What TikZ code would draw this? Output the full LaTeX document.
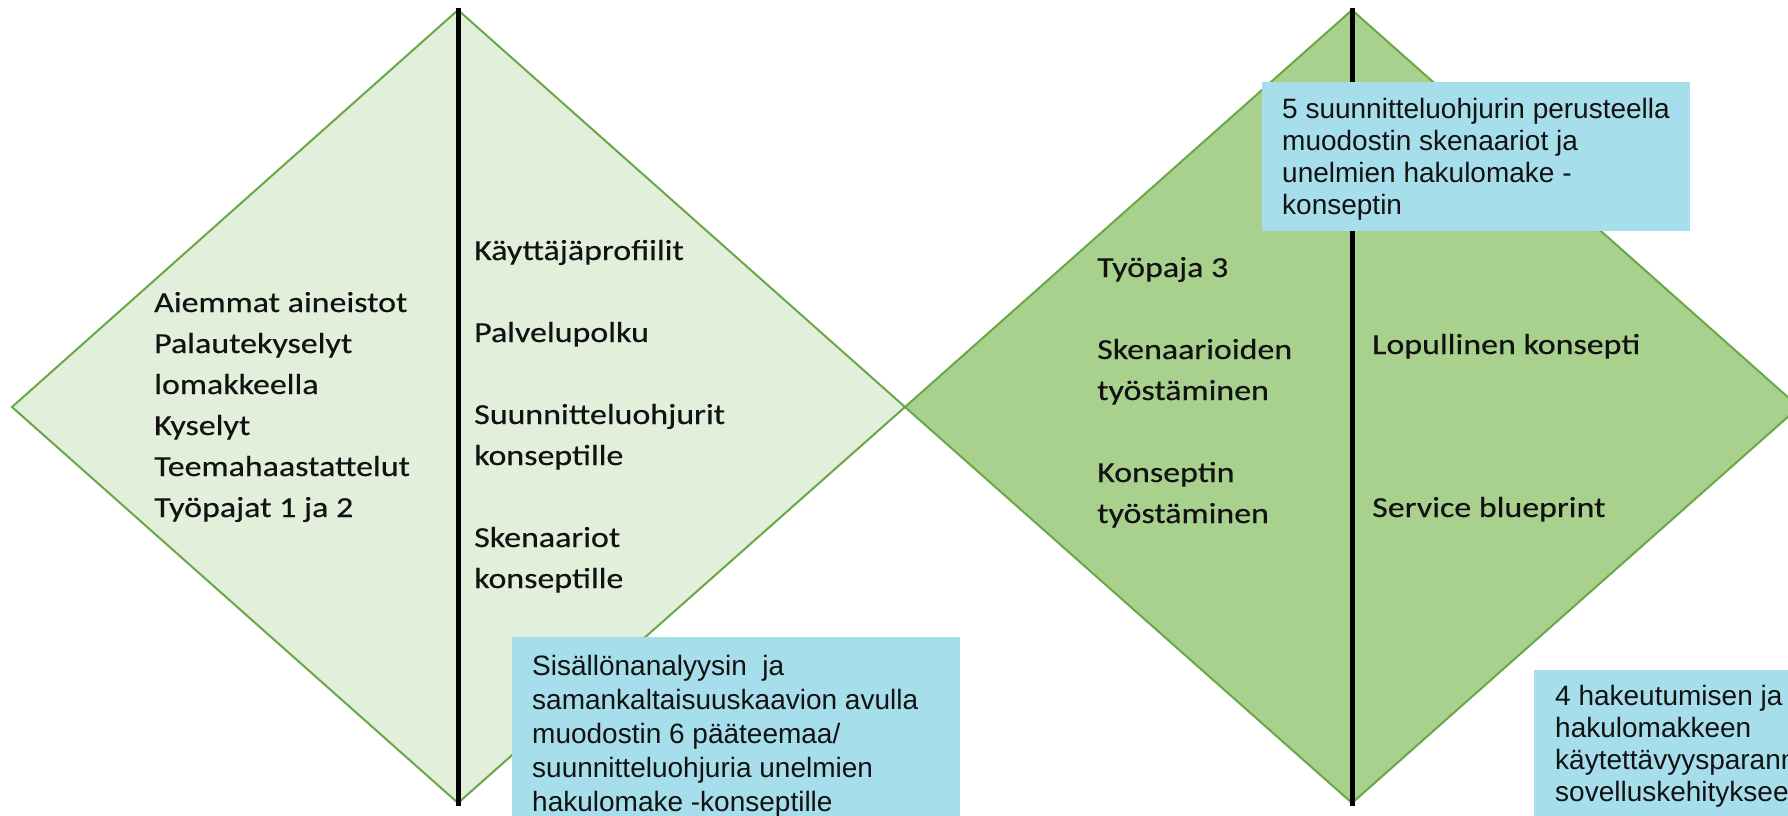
\documentclass[tikz,border=0pt]{standalone}
\usepackage{fontspec}
\newfontfamily\dfont[FakeStretch=1.17,FakeBold=0.4]{Carlito}
\newfontfamily\bxfont{Liberation Sans}
\definecolor{lightg}{RGB}{226,239,218}
\definecolor{midg}{RGB}{169,209,142}
\definecolor{edgeg}{RGB}{104,168,72}
\definecolor{boxblue}{RGB}{166,222,236}
\definecolor{txt}{RGB}{18,18,18}
\tikzset{
  dia/.style={draw=edgeg, line width=2pt, line join=miter},
  divider/.style={draw=black, line width=5pt},
  dtext/.style={anchor=base west, inner sep=0pt, text=txt, font=\dfont\fontsize{29}{41}\selectfont},
  btext/.style={anchor=base west, inner sep=0pt, text=txt, font=\bxfont\fontsize{28}{34}\selectfont},
  bluebox/.style={fill=boxblue, draw=none}
}
\begin{document}
\begin{tikzpicture}[x=1pt,y=-1pt]
\useasboundingbox (0,0) rectangle (1788,815);
\clip (0,0) rectangle (1788,815);
\fill[white] (0,0) rectangle (1788,815);
% diamonds
\coordinate (LW) at (12,407);
\coordinate (LT) at (458,10);
\coordinate (MID) at (905,407);
\coordinate (LB) at (458,803);
\coordinate (RT) at (1352,10);
\coordinate (RE) at (1799,407);
\coordinate (RB) at (1352,803);
\filldraw[dia, fill=lightg] (LW) -- (LT) -- (MID) -- (LB) -- cycle;
\filldraw[dia, fill=midg] (MID) -- (RT) -- (RE) -- (RB) -- cycle;
% dividers
\coordinate (LT1) at (458,8);
\coordinate (LB1) at (458,806);
\coordinate (RT1) at (1352,8);
\coordinate (RB1) at (1352,806);
\draw[divider] (LT1) -- (LB1);
\draw[divider] (RT1) -- (RB1);
% left diamond, left column
\node[dtext] (a1) at (154,312) {Aiemmat aineistot};
\node[dtext] (a2) at (154,353) {Palautekyselyt};
\node[dtext] (a3) at (154,394) {lomakkeella};
\node[dtext] (a4) at (154,435) {Kyselyt};
\node[dtext] (a5) at (154,476) {Teemahaastattelut};
\node[dtext] (a6) at (154,517) {Työpajat 1 ja 2};
% left diamond, right column
\node[dtext] (b1) at (474,260) {Käyttäjäprofiilit};
\node[dtext] (b2) at (474,342) {Palvelupolku};
\node[dtext] (b3) at (474,424) {Suunnitteluohjurit};
\node[dtext] (b4) at (474,465) {konseptille};
\node[dtext] (b5) at (474,547) {Skenaariot};
\node[dtext] (b6) at (474,588) {konseptille};
% right diamond, left column
\node[dtext] (c1) at (1097,277) {Työpaja 3};
\node[dtext] (c2) at (1097,359) {Skenaarioiden};
\node[dtext] (c3) at (1097,400) {työstäminen};
\node[dtext] (c4) at (1097,482) {Konseptin};
\node[dtext] (c5) at (1097,523) {työstäminen};
% right diamond, right column
\node[dtext] (d1) at (1372,354) {Lopullinen konsepti};
\node[dtext] (d2) at (1372,517) {Service blueprint};
% blue box 1
\path[bluebox] (512,637) rectangle (960,830);
\node[btext] (e1) at (532,675) {Sisällönanalyysin\ \ ja};
\node[btext] (e2) at (532,709) {samankaltaisuuskaavion avulla};
\node[btext] (e3) at (532,743) {muodostin 6 pääteemaa/};
\node[btext] (e4) at (532,777) {suunnitteluohjuria unelmien};
\node[btext] (e5) at (532,811) {hakulomake -konseptille};
% blue box 2
\path[bluebox] (1262,82) rectangle (1690,231);
\node[btext] (f1) at (1282,118) {5 suunnitteluohjurin perusteella};
\node[btext] (f2) at (1282,150) {muodostin skenaariot ja};
\node[btext] (f3) at (1282,182) {unelmien hakulomake -};
\node[btext] (f4) at (1282,214) {konseptin};
% blue box 3
\path[bluebox] (1534,670) rectangle (1800,830);
\node[btext] (g1) at (1555,705) {4 hakeutumisen ja};
\node[btext] (g2) at (1555,737) {hakulomakkeen};
\node[btext] (g3) at (1555,769) {käytettävyysparannusta};
\node[btext] (g4) at (1555,801) {sovelluskehitykseen};
\end{tikzpicture}
\end{document}
